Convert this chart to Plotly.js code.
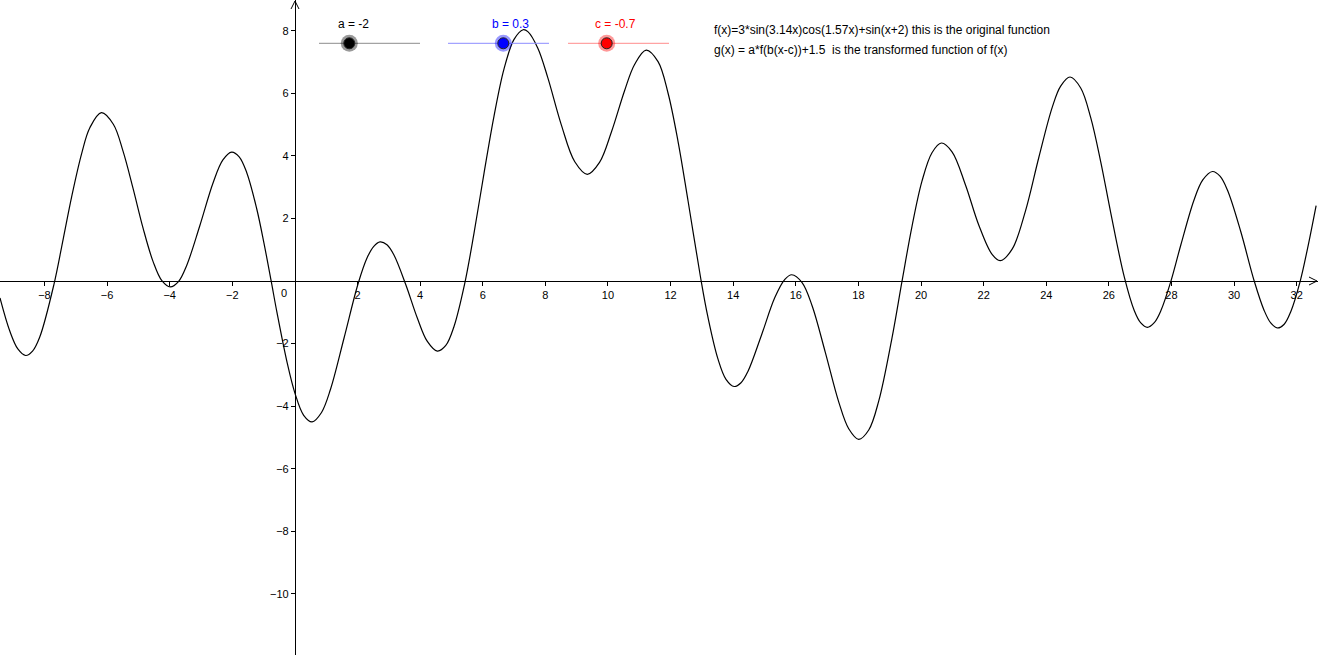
<!DOCTYPE html>
<html>
<head>
<meta charset="utf-8">
<script src="https://cdn.plot.ly/plotly-3.0.1.min.js"></script>
<style>
html,body{margin:0;padding:0;background:#fff;}
#chart{width:1318px;height:655px;}
</style>
</head>
<body>
<div id="chart"></div>
<script>
// ---- Data ----
const curveX = [-9.42,-9.11,-8.85,-8.6,-8.38,-8.15,-7.70,-7.40,-7.13,-6.81,-6.55,-6.18,-5.80,-5.49,-5.17,-4.85,-4.53,-4.25,-3.98,-3.72,-3.46,-3.04,-2.61,-2.3,-2.02,-1.78,-1.54,-1.22,-0.99,-0.76,-0.57,-0.25,0,0.28,0.55,0.85,1.14,1.57,2.02,2.31,2.52,2.72,2.94,3.16,3.54,3.91,4.23,4.55,4.82,5.08,5.42,5.72,6.04,6.36,6.68,7.0,7.29,7.44,7.76,8.08,8.51,8.94,9.34,9.73,10.11,10.53,10.85,11.22,11.6,11.92,12.24,12.56,12.95,13.19,13.51,13.77,14.03,14.25,14.47,14.9,15.33,15.65,15.87,16.2,16.52,16.94,17.37,17.69,18.01,18.33,18.65,19.07,19.39,19.71,20.03,20.35,20.65,20.99,21.42,21.84,22.27,22.53,22.91,23.33,23.76,24.19,24.46,24.76,25.1,25.42,25.74,26.06,26.49,26.81,27.02,27.23,27.45,27.66,27.98,28.3,28.72,29.0,29.31,29.55,29.79,30.21,30.64,30.96,31.17,31.38,31.6,31.81,32.11,32.34,32.62];
const curveY = [-0.54,-1.59,-2.17,-2.38,-2.24,-1.79,-0.12,1.35,2.70,4.08,4.90,5.38,5.01,4.15,2.96,1.69,0.62,0.01,-0.19,-0.02,0.49,1.76,3.15,3.87,4.12,3.97,3.47,2.31,1.22,0.01,-1.02,-2.60,-3.58,-4.29,-4.50,-4.20,-3.45,-1.82,-0.08,0.75,1.11,1.25,1.16,0.84,-0.11,-1.18,-1.93,-2.24,-2.06,-1.46,-0.10,1.52,3.44,5.27,6.78,7.72,8.03,7.97,7.44,6.49,4.99,3.81,3.41,3.79,4.76,6.08,6.92,7.38,7.01,6.00,4.45,2.55,0.16,-1.14,-2.48,-3.14,-3.37,-3.25,-2.89,-1.74,-0.53,0.05,0.20,-0.05,-0.79,-2.27,-3.86,-4.72,-5.06,-4.76,-3.83,-1.83,-0.02,1.74,3.19,4.10,4.41,4.13,3.07,1.80,0.85,0.65,1.02,2.22,3.94,5.55,6.23,6.52,6.17,5.22,3.81,2.18,0.14,-0.94,-1.34,-1.48,-1.33,-0.95,-0.01,1.16,2.59,3.23,3.50,3.35,2.90,1.59,0.01,-0.94,-1.34,-1.50,-1.38,-0.98,-0.01,1.01,2.41];

const xTickVals = [-8,-6,-4,-2,2,4,6,8,10,12,14,16,18,20,22,24,26,28,30,32];
const yTickVals = [-10,-8,-6,-4,-2,2,4,6,8];

const sliderNames = ['a','b','c'];
const sliderValues = [-2, 0.3, -0.7];
const sliderColors = ['#000000','#0000ff','#ff0000'];

const formulaLines = [
  'f(x)=3*sin(3.14x)cos(1.57x)+sin(x+2) this is the original function',
  'g(x) = a*f(b(x-c))+1.5  is the transformed function of f(x)'
];

// ---- Layout helpers (screen positions of GeoGebra widgets) ----
const W = 1318, H = 655;
const xRange = [-9.42, 32.68];
const yRange = [-11.95, 8.98];
const px = v => v / W;
const py = v => 1 - v / H;

const sliderLine = [[319,420],[448,549],[568,669]];
const sliderHandle = [349.3, 503.3, 606.7];
const sliderLabelX = [353.3, 510.7, 615];
const lineColors = ['#8c8c8c','#8c8cff','#ff8c8c'];
const haloColors = ['rgba(0,0,0,0.4)','rgba(0,0,255,0.4)','rgba(255,0,0,0.4)'];
const sliderY = 43.3;

const shapes = [];
const annotations = [];

sliderNames.forEach((n,i)=>{
  shapes.push({type:'line',xref:'paper',yref:'paper',x0:px(sliderLine[i][0]),x1:px(sliderLine[i][1]),y0:py(sliderY),y1:py(sliderY),line:{color:lineColors[i],width:1}});
  shapes.push({type:'circle',xref:'paper',yref:'paper',xsizemode:'pixel',ysizemode:'pixel',xanchor:px(sliderHandle[i]),yanchor:py(sliderY),x0:-8.5,x1:8.5,y0:-8.5,y1:8.5,fillcolor:haloColors[i],line:{width:0}});
  shapes.push({type:'circle',xref:'paper',yref:'paper',xsizemode:'pixel',ysizemode:'pixel',xanchor:px(sliderHandle[i]),yanchor:py(sliderY),x0:-5.5,x1:5.5,y0:-5.5,y1:5.5,fillcolor:sliderColors[i],line:{color:'#222',width:1}});
  annotations.push({xref:'paper',yref:'paper',x:px(sliderLabelX[i]),y:py(24.3),xanchor:'center',yanchor:'middle',showarrow:false,
    text:n+' = '+String(sliderValues[i]),font:{family:'Liberation Sans, Arial, sans-serif',size:12,color:sliderColors[i]}});
});

formulaLines.forEach((t,i)=>{
  annotations.push({xref:'paper',yref:'paper',x:px(712),y:py(i===0?29.5:50.5),xanchor:'left',yanchor:'middle',showarrow:false,
    text:t,font:{family:'Liberation Sans, Arial, sans-serif',size:12,color:'#000'}});
});

// origin label
annotations.push({xref:'x',yref:'y',x:0,y:0,xanchor:'right',yanchor:'top',xshift:-6,yshift:-4,showarrow:false,text:'0',
  font:{family:'Liberation Sans, Arial, sans-serif',size:11,color:'#000'}});

// axis arrowheads
const ox = 295, oy = 281;
shapes.push({type:'path',xref:'paper',yref:'paper',
  path:`M ${px(W-9)} ${py(oy-4)} L ${px(W-1)} ${py(oy)} L ${px(W-9)} ${py(oy+4)}`,line:{color:'#000',width:1}});
shapes.push({type:'path',xref:'paper',yref:'paper',
  path:`M ${px(ox-4)} ${py(9)} L ${px(ox)} ${py(1)} L ${px(ox+4)} ${py(9)}`,line:{color:'#000',width:1}});

const xPos = (0 - yRange[0])/(yRange[1]-yRange[0]);
const yPos = (0 - xRange[0])/(xRange[1]-xRange[0]);

const tickFont = {family:'Liberation Sans, Arial, sans-serif',size:11,color:'#000'};

const trace = {x:curveX,y:curveY,type:'scatter',mode:'lines',
  line:{color:'#000',width:1.2,shape:'spline',smoothing:1,simplify:false},hoverinfo:'skip'};

const layout = {
  width:W,height:H,
  margin:{l:0,r:0,t:0,b:0,pad:0},
  paper_bgcolor:'#fff',plot_bgcolor:'#fff',
  showlegend:false,
  xaxis:{range:xRange,anchor:'free',position:xPos,showgrid:false,zeroline:false,showline:true,linecolor:'#000',linewidth:1,
    ticks:'outside',ticklen:4,tickcolor:'#000',tickmode:'array',tickvals:xTickVals,tickfont:tickFont,fixedrange:true},
  yaxis:{range:yRange,anchor:'free',position:yPos,showgrid:false,zeroline:false,showline:true,linecolor:'#000',linewidth:1,
    ticks:'outside',ticklen:4,tickcolor:'#000',tickmode:'array',tickvals:yTickVals,tickfont:tickFont,fixedrange:true},
  shapes:shapes,
  annotations:annotations
};

Plotly.newPlot('chart',[trace],layout,{displayModeBar:false,staticPlot:true});
</script>
</body>
</html>
